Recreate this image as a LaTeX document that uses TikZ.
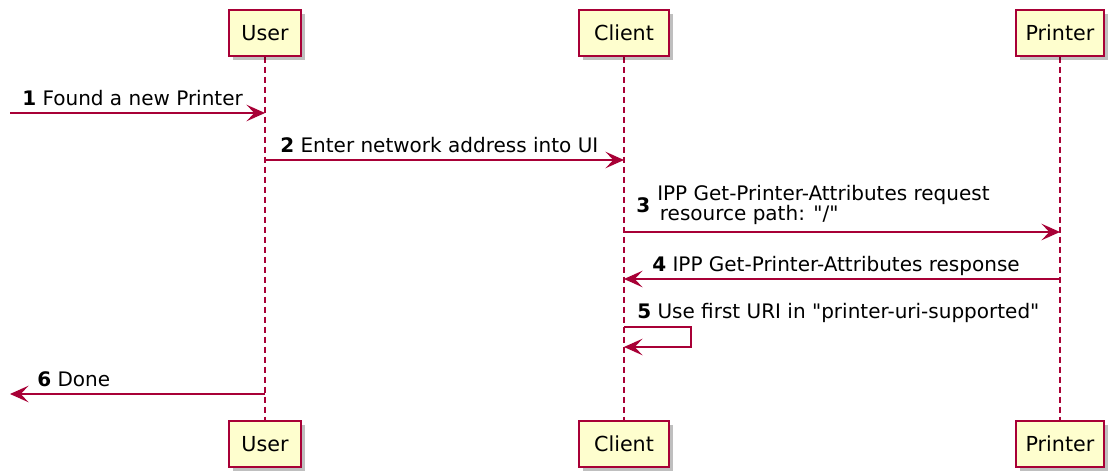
\documentclass[tikz,border=0pt]{standalone}
\usepackage{fontspec}
\setmainfont{DejaVu Sans}[Ligatures=TeXOff]
\usetikzlibrary{arrows.meta,shadows,backgrounds}
\definecolor{umlred}{HTML}{A80036}
\definecolor{umlfill}{HTML}{FEFECE}

\begin{document}
\begin{tikzpicture}[
    x=0.75pt, y=-0.75pt, % one unit = one pixel of the drawing
    actor/.style = {draw=umlred, fill=umlfill, line width=1.1pt, inner sep=0pt,
        minimum height=34.5pt, font=\fontsize{15.5}{18}\selectfont,
        drop shadow={shadow xshift=3pt, shadow yshift=-3pt, fill=black, opacity=0.25}},
    msg/.style = {draw=umlred, line width=0.9pt, -{Stealth[length=14pt, width=12.5pt, inset=6pt]}},
    msgtext/.style = {anchor=base west, inner sep=0pt, font=\fontsize{15}{13.5}\selectfont}
    ]
    \tikzstyle{life_line} = [draw=umlred, line width=0.8pt, dash pattern=on 4.5pt off 3pt]
    \useasboundingbox (0,0) rectangle (1108,474);

    % participants
    \node[actor, minimum width=54pt] (UserTop) at (265,33) {User};
    \node[actor, minimum width=67.5pt] (ClientTop) at (624,33) {Client};
    \node[actor, minimum width=66pt] (PrinterTop) at (1060,33) {Printer};
    \node[actor, minimum width=54pt] (UserBot) at (265,444) {User};
    \node[actor, minimum width=67.5pt] (ClientBot) at (624,444) {Client};
    \node[actor, minimum width=66pt] (PrinterBot) at (1060,444) {Printer};

    \begin{scope}[on background layer]
    \draw[life_line] (UserTop) -- (UserBot);
    \draw[life_line] (ClientTop) -- (ClientBot);
    \draw[life_line] (PrinterTop) -- (PrinterBot);
    \end{scope}

    % messages
    \coordinate (start) at (10,113);
    \coordinate (finish) at (10,394);
    \draw[msg] (start) -- (UserTop |- start);
    \node[msgtext] (m1) at (22,106) {\textbf{1} Found a new Printer};

    \draw[msg] (UserTop |- 0,160) -- (ClientTop |- 0,160);
    \node[msgtext] (m2) at (280,153) {\textbf{2} Enter network address into UI};

    \draw[msg] (ClientTop |- 0,232) -- (PrinterTop |- 0,232);
    \node[msgtext] (n3) at (636,213) {\textbf{3}};
    \node[msgtext, align=left] (m3) at (657,221) {IPP Get-Printer-Attributes request\\\hspace{2pt}resource path: "/"};

    \draw[msg] (PrinterTop |- 0,279) -- (ClientTop |- 0,279);
    \node[msgtext] (m4) at (652,272) {\textbf{4} IPP Get-Printer-Attributes response};

    \draw[msg] (ClientTop |- 0,327) -- ++(67,0) -- ++(0,20) -- (ClientTop |- 0,347);
    \node[msgtext] (m5) at (637,319) {\textbf{5} Use first URI in "printer-uri-supported"};

    \draw[msg] (UserTop |- finish) -- (finish);
    \node[msgtext] (m6) at (37,387) {\textbf{6} Done};
\end{tikzpicture}
\end{document}
